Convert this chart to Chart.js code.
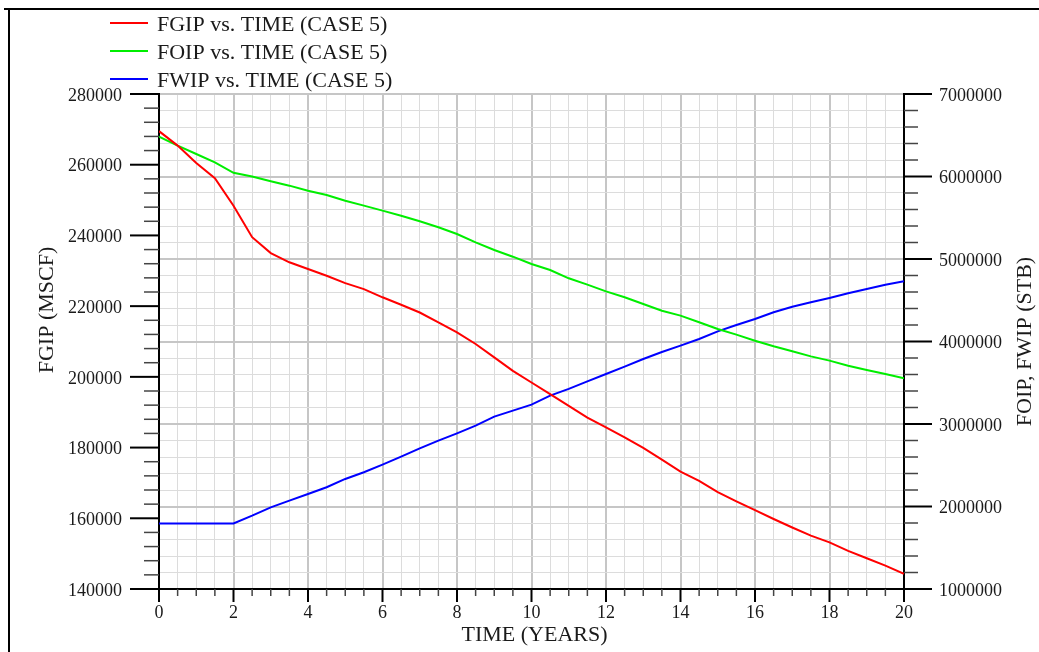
<!DOCTYPE html>
<html>
<head>
<meta charset="utf-8">
<script src="https://cdn.jsdelivr.net/npm/chart.js@4.4.1/dist/chart.umd.min.js"></script>
<style>
  html, body { margin: 0; padding: 0; background: #fff; }
  #wrap { position: relative; width: 1039px; height: 652px; }
</style>
</head>
<body>
<div id="wrap"><canvas id="chart" width="1039" height="652"></canvas></div>
<script>
// 時間 (年)
const years = [0, 0.5, 1, 1.5, 2, 2.5, 3, 3.5, 4, 4.5, 5, 5.5, 6, 6.5, 7, 7.5, 8, 8.5, 9, 9.5,
    10, 10.5, 11, 11.5, 12, 12.5, 13, 13.5, 14, 14.5, 15, 15.5, 16, 16.5, 17, 17.5, 18, 18.5, 19, 19.5, 20];

// FGIP (MSCF) - 左軸
const fgip = [269500, 265400, 260500, 256200, 248400, 239500, 235000, 232400, 230500, 228600,
    226500, 224800, 222500, 220400, 218200, 215400, 212600, 209300, 205500, 201700,
    198400, 195100, 191800, 188500, 185700, 182900, 179900, 176600, 173200, 170600,
    167400, 164800, 162300, 159800, 157400, 155100, 153200, 150800, 148700, 146600, 144300];

// FOIP (STB) - 右軸
const foip = [6483000, 6374000, 6273000, 6172000, 6045000, 6000000, 5942000, 5889000, 5828000, 5776000,
    5707000, 5647000, 5586000, 5525000, 5457000, 5384000, 5303000, 5202000, 5109000, 5028000,
    4940000, 4867000, 4766000, 4689000, 4608000, 4536000, 4455000, 4372000, 4314000, 4233000,
    4152000, 4083000, 4010000, 3942000, 3881000, 3820000, 3768000, 3707000, 3655000, 3606000, 3554000];

// FWIP (STB) - 右軸
const fwip = [1795000, 1795000, 1795000, 1795000, 1795000, 1889000, 1990000, 2071000, 2152000, 2233000,
    2334000, 2415000, 2507000, 2604000, 2705000, 2798000, 2887000, 2980000, 3089000, 3162000,
    3235000, 3344000, 3425000, 3517000, 3606000, 3695000, 3788000, 3872000, 3950000, 4031000,
    4123000, 4200000, 4273000, 4354000, 4422000, 4475000, 4527000, 4584000, 4637000, 4689000, 4730000];

const seriesLabels = ['FGIP vs. TIME (CASE 5)', 'FOIP vs. TIME (CASE 5)', 'FWIP vs. TIME (CASE 5)'];
const seriesColors = ['#ff0000', '#00ee00', '#0000ff'];

const xTitle = 'TIME (YEARS)';
const yTitle = 'FGIP (MSCF)';
const y1Title = 'FOIP, FWIP (STB)';

const FONT = "'Liberation Serif', 'Times New Roman', serif";
const MAJOR_GRID = '#c6c6c6';
const MINOR_GRID = '#dcdcdc';

const isMult = (v, m) => Math.abs(v / m - Math.round(v / m)) < 1e-9;

// 外枠・凡例・軸タイトル・目盛り線
const decorPlugin = {
    id: 'decor',
    afterDraw(chart) {
        const ctx = chart.ctx;
        const area = chart.chartArea;
        ctx.save();

        // 外枠 (上と左)
        ctx.strokeStyle = '#000';
        ctx.lineWidth = 2;
        ctx.beginPath();
        ctx.moveTo(4, 9); ctx.lineTo(chart.width, 9);
        ctx.moveTo(9, 9); ctx.lineTo(9, chart.height);
        ctx.stroke();

        // 目盛り線
        const drawTicks = (scale, test, majorLen, minorLen, dir) => {
            scale.ticks.forEach(t => {
                const major = test(t.value);
                const len = major ? majorLen : minorLen;
                const p = scale.getPixelForValue(t.value);
                ctx.strokeStyle = major ? '#000' : '#444';
                ctx.lineWidth = major ? 2 : 1.5;
                ctx.beginPath();
                if (dir === 'down') { ctx.moveTo(p, area.bottom); ctx.lineTo(p, area.bottom + len); }
                if (dir === 'left') { ctx.moveTo(area.left, p); ctx.lineTo(area.left - len, p); }
                if (dir === 'right') { ctx.moveTo(area.right, p); ctx.lineTo(area.right + len, p); }
                ctx.stroke();
            });
        };
        drawTicks(chart.scales.x, v => isMult(v, 2), 13, 7, 'down');
        drawTicks(chart.scales.y, v => isMult(v, 20000), 29, 15, 'left');
        drawTicks(chart.scales.y1, v => isMult(v, 1000000), 28, 14, 'right');

        // 凡例
        ctx.font = `22px ${FONT}`;
        ctx.textAlign = 'left';
        ctx.textBaseline = 'alphabetic';
        chart.data.datasets.forEach((ds, i) => {
            const yy = 23 + i * 28;
            ctx.strokeStyle = ds.borderColor;
            ctx.lineWidth = 2;
            ctx.beginPath();
            ctx.moveTo(110, yy); ctx.lineTo(148, yy);
            ctx.stroke();
            ctx.fillStyle = '#1a1a1a';
            ctx.fillText(ds.label, 157, yy + 8);
        });

        // 軸タイトル
        ctx.fillStyle = '#1a1a1a';
        ctx.textAlign = 'center';
        ctx.fillText(xTitle, (area.left + area.right) / 2 + 3, 641);

        ctx.save();
        ctx.translate(53, 310);
        ctx.rotate(-Math.PI / 2);
        ctx.fillText(yTitle, 0, 0);
        ctx.restore();

        ctx.save();
        ctx.translate(1031, (area.top + area.bottom) / 2);
        ctx.rotate(-Math.PI / 2);
        ctx.fillText(y1Title, 0, 0);
        ctx.restore();

        ctx.restore();
    }
};

const tickFont = { family: FONT, size: 18 };

new Chart(document.getElementById('chart'), {
    type: 'line',
    data: {
        labels: years,
        datasets: [
            { label: seriesLabels[0], data: fgip, yAxisID: 'y', borderColor: seriesColors[0] },
            { label: seriesLabels[1], data: foip, yAxisID: 'y1', borderColor: seriesColors[1] },
            { label: seriesLabels[2], data: fwip, yAxisID: 'y1', borderColor: seriesColors[2] }
        ].map(d => ({ ...d, data: d.data.map((v, i) => ({ x: years[i], y: v })), borderWidth: 2, pointRadius: 0, tension: 0, fill: false }))
    },
    options: {
        responsive: false,
        devicePixelRatio: 1,
        animation: false,
        layout: { padding: { top: 94, left: 0, right: 0, bottom: 0 } },
        plugins: { legend: { display: false }, tooltip: { enabled: false } },
        scales: {
            x: {
                type: 'linear',
                min: 0, max: 20,
                afterFit(scale) { scale.height = 63; },
                grid: {
                    drawTicks: false,
                    color: c => isMult(c.tick.value, 2) ? MAJOR_GRID : MINOR_GRID,
                    lineWidth: c => isMult(c.tick.value, 2) ? 2 : 1
                },
                border: { display: true, color: '#000', width: 2 },
                ticks: {
                    stepSize: 0.5, autoSkip: false, maxRotation: 0, padding: 13,
                    color: '#1a1a1a', font: tickFont,
                    callback: v => isMult(v, 2) ? String(v) : ''
                }
            },
            y: {
                position: 'left',
                min: 140000, max: 280000,
                afterFit(scale) { scale.width = 159; },
                grid: { drawOnChartArea: false, drawTicks: false },
                border: { display: true, color: '#000', width: 2 },
                ticks: {
                    stepSize: 4000, autoSkip: false, padding: 37, labelOffset: 2,
                    color: '#1a1a1a', font: tickFont,
                    callback: v => isMult(v, 20000) ? String(v) : ''
                }
            },
            y1: {
                position: 'right',
                min: 1000000, max: 7000000,
                afterFit(scale) { scale.width = 135; },
                grid: {
                    drawTicks: false,
                    color: c => isMult(c.tick.value, 1000000) ? MAJOR_GRID : MINOR_GRID,
                    lineWidth: c => isMult(c.tick.value, 1000000) ? 2 : 1
                },
                border: { display: true, color: '#000', width: 2 },
                ticks: {
                    stepSize: 200000, autoSkip: false, padding: 35, labelOffset: 2,
                    color: '#1a1a1a', font: tickFont,
                    callback: v => isMult(v, 1000000) ? String(v) : ''
                }
            }
        }
    },
    plugins: [decorPlugin]
});
</script>
</body>
</html>
